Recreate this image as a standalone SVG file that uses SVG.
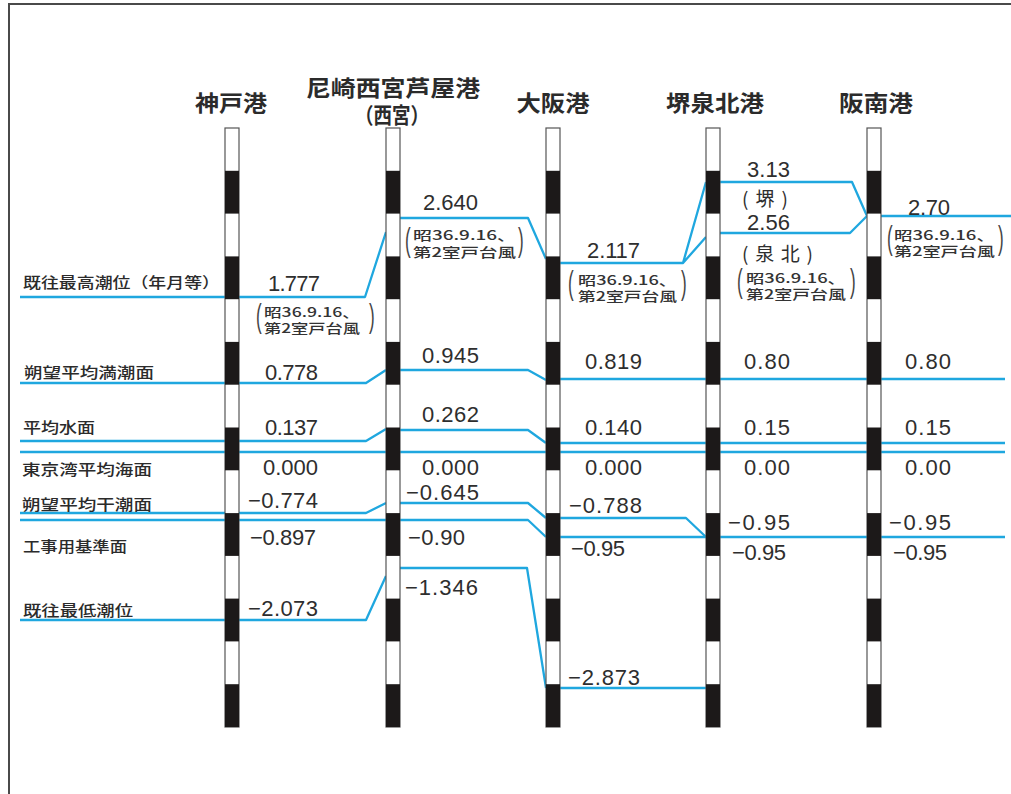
<svg xmlns="http://www.w3.org/2000/svg" xmlns:xlink="http://www.w3.org/1999/xlink" width="1011" height="794" viewBox="0 0 1011 794">
<style>
.frame{fill:none;stroke:#4a4a4a;stroke-width:2}
.lv{fill:none;stroke:#1fa7df;stroke-width:2.3;stroke-linejoin:round}
.hd{font-family:"Noto Sans CJK JP","Noto Sans CJK SC",sans-serif;font-weight:700;font-size:22px;fill:#2b2b2b;text-anchor:middle}
.lb{font-family:"Noto Sans CJK JP","Noto Sans CJK SC",sans-serif;font-weight:500;font-size:15px;fill:#2b2b2b}
.val{font-family:"Liberation Sans","Noto Sans CJK JP",sans-serif;font-size:22px;fill:#2e2e2e}
.jv{font-family:"Noto Sans CJK JP","Noto Sans CJK SC",sans-serif;font-size:19px;fill:#2e2e2e}
.nt{font-family:"Noto Sans CJK JP","Noto Sans CJK SC",sans-serif;font-weight:500;font-size:13px;fill:#333}
.par{font-family:"Liberation Sans",sans-serif;font-size:34px;fill:#444}
.sw{fill:#fff;stroke:#555;stroke-width:1.2}
.sb{fill:#1c1919}
</style>
<defs>
<g id="staff">
<rect class="sw" x="0" y="128" width="14" height="599"/>
<rect class="sb" x="0" y="170.8" width="14" height="42.8"/>
<rect class="sb" x="0" y="256.4" width="14" height="42.8"/>
<rect class="sb" x="0" y="341.9" width="14" height="42.8"/>
<rect class="sb" x="0" y="427.5" width="14" height="42.8"/>
<rect class="sb" x="0" y="513.1" width="14" height="42.8"/>
<rect class="sb" x="0" y="598.6" width="14" height="42.8"/>
<rect class="sb" x="0" y="684.2" width="14" height="42.8"/>
</g>
</defs>
<rect x="0" y="0" width="1011" height="794" fill="#fff"/>
<rect class="frame" x="9" y="4" width="1100" height="900"/>

<g id="connectors">
<path class="lv" d="M20,297 H365 L386,232 M400,218 H528 L546,259 M560,263 H683 L706,182 M683,263 L706,237 M720,182 H852 L867,216 M720,233 H850 L867,216 M881,216 H1011"/>
<path class="lv" d="M20,383 H366 L386,370 M400,370 H528 L546,380 M560,379 H1005"/>
<path class="lv" d="M20,441 H366 L386,429 M400,430 H528 L546,443 M560,443 H1005"/>
<path class="lv" d="M20,452 H1005"/>
<path class="lv" d="M20,513 H366 L386,503 M400,503 H528 L546,518 M560,518 H686 L706,537"/>
<path class="lv" d="M20,520 H386 M400,520 H528 L546,537 M560,537 H1005"/>
<path class="lv" d="M20,620 H366 L386,576 M400,568 H527 L546,688 M560,688 H706"/>
</g>

<g id="labels">
<text class="lb" x="23" y="288" textLength="197" lengthAdjust="spacingAndGlyphs">既往最高潮位（年月等）</text>
<text class="lb" x="24" y="378" textLength="130" lengthAdjust="spacingAndGlyphs">朔望平均満潮面</text>
<text class="lb" x="23" y="433" textLength="72" lengthAdjust="spacingAndGlyphs">平均水面</text>
<text class="lb" x="22" y="475" textLength="130" lengthAdjust="spacingAndGlyphs">東京湾平均海面</text>
<text class="lb" x="22" y="510" textLength="130" lengthAdjust="spacingAndGlyphs">朔望平均干潮面</text>
<text class="lb" x="23" y="552" textLength="104" lengthAdjust="spacingAndGlyphs">工事用基準面</text>
<text class="lb" x="23" y="616" textLength="110" lengthAdjust="spacingAndGlyphs">既往最低潮位</text>
</g>

<g id="kobe">
<text class="hd" x="231" y="111" textLength="72" lengthAdjust="spacingAndGlyphs">神戸港</text>
<use xlink:href="#staff" x="225"/>
<text class="val" x="268" y="291" textLength="52" lengthAdjust="spacing">1.777</text>
<text class="par" transform="translate(256,327) scale(0.5,1)">(</text>
<text class="nt" x="264" y="317" textLength="96" lengthAdjust="spacingAndGlyphs">昭36.9.16、</text>
<text class="nt" x="264" y="333" textLength="96" lengthAdjust="spacingAndGlyphs">第2室戸台風</text>
<text class="par" transform="translate(369,327) scale(0.5,1)">)</text>
<text class="val" x="265" y="380" textLength="53" lengthAdjust="spacing">0.778</text>
<text class="val" x="265" y="435" textLength="53" lengthAdjust="spacing">0.137</text>
<text class="val" x="263" y="475" textLength="55" lengthAdjust="spacing">0.000</text>
<text class="val" x="248" y="508" textLength="70" lengthAdjust="spacing">−0.774</text>
<text class="val" x="250" y="545" textLength="66" lengthAdjust="spacing">−0.897</text>
<text class="val" x="248" y="616" textLength="70" lengthAdjust="spacing">−2.073</text>
</g>

<g id="amagasaki">
<text class="hd" x="393" y="96" textLength="174" lengthAdjust="spacingAndGlyphs">尼崎西宮芦屋港</text>
<text class="hd" x="392" y="123" textLength="74" lengthAdjust="spacingAndGlyphs">（西宮）</text>
<use xlink:href="#staff" x="386"/>
<text class="val" x="423" y="210" textLength="55" lengthAdjust="spacing">2.640</text>
<text class="par" transform="translate(405,251) scale(0.5,1)">(</text>
<text class="nt" x="413" y="240" textLength="103" lengthAdjust="spacingAndGlyphs">昭36.9.16、</text>
<text class="nt" x="413" y="257" textLength="103" lengthAdjust="spacingAndGlyphs">第2室戸台風</text>
<text class="par" transform="translate(518,251) scale(0.5,1)">)</text>
<text class="val" x="422" y="363" textLength="57" lengthAdjust="spacing">0.945</text>
<text class="val" x="422" y="422" textLength="57" lengthAdjust="spacing">0.262</text>
<text class="val" x="422" y="475" textLength="57" lengthAdjust="spacing">0.000</text>
<text class="val" x="406" y="500" textLength="73" lengthAdjust="spacing">−0.645</text>
<text class="val" x="408" y="545" textLength="57" lengthAdjust="spacing">−0.90</text>
<text class="val" x="405" y="595" textLength="73" lengthAdjust="spacing">−1.346</text>
</g>

<g id="osaka">
<text class="hd" x="553" y="111" textLength="73" lengthAdjust="spacingAndGlyphs">大阪港</text>
<use xlink:href="#staff" x="546"/>
<text class="val" x="587" y="258" textLength="53" lengthAdjust="spacing">2.117</text>
<text class="par" transform="translate(568,294) scale(0.5,1)">(</text>
<text class="nt" x="578" y="285" textLength="99" lengthAdjust="spacingAndGlyphs">昭36.9.16、</text>
<text class="nt" x="578" y="301" textLength="99" lengthAdjust="spacingAndGlyphs">第2室戸台風</text>
<text class="par" transform="translate(681,294) scale(0.5,1)">)</text>
<text class="val" x="585" y="369" textLength="57" lengthAdjust="spacing">0.819</text>
<text class="val" x="585" y="435" textLength="57" lengthAdjust="spacing">0.140</text>
<text class="val" x="585" y="475" textLength="57" lengthAdjust="spacing">0.000</text>
<text class="val" x="569" y="513" textLength="73" lengthAdjust="spacing">−0.788</text>
<text class="val" x="571" y="556" textLength="54" lengthAdjust="spacing">−0.95</text>
<text class="val" x="568" y="685" textLength="72" lengthAdjust="spacing">−2.873</text>
</g>

<g id="sakai-senboku">
<text class="hd" x="715" y="111" textLength="98" lengthAdjust="spacingAndGlyphs">堺泉北港</text>
<use xlink:href="#staff" x="706"/>
<text class="val" x="747" y="177" textLength="43" lengthAdjust="spacing">3.13</text>
<text class="jv" x="742" y="206" textLength="46" lengthAdjust="spacing">(堺)</text>
<text class="val" x="747" y="230" textLength="43" lengthAdjust="spacing">2.56</text>
<text class="jv" x="742" y="261" textLength="71" lengthAdjust="spacing">(泉北)</text>
<text class="par" transform="translate(737,292) scale(0.5,1)">(</text>
<text class="nt" x="746" y="283" textLength="100" lengthAdjust="spacingAndGlyphs">昭36.9.16、</text>
<text class="nt" x="746" y="299" textLength="100" lengthAdjust="spacingAndGlyphs">第2室戸台風</text>
<text class="par" transform="translate(850,292) scale(0.5,1)">)</text>
<text class="val" x="744" y="369" textLength="46" lengthAdjust="spacing">0.80</text>
<text class="val" x="744" y="435" textLength="46" lengthAdjust="spacing">0.15</text>
<text class="val" x="744" y="475" textLength="46" lengthAdjust="spacing">0.00</text>
<text class="val" x="728" y="530" textLength="62" lengthAdjust="spacing">−0.95</text>
<text class="val" x="732" y="560" textLength="54" lengthAdjust="spacing">−0.95</text>
</g>

<g id="hannan">
<text class="hd" x="876" y="111" textLength="74" lengthAdjust="spacingAndGlyphs">阪南港</text>
<use xlink:href="#staff" x="867"/>
<text class="val" x="908" y="215" textLength="42" lengthAdjust="spacing">2.70</text>
<text class="par" transform="translate(887,249) scale(0.5,1)">(</text>
<text class="nt" x="894" y="240" textLength="101" lengthAdjust="spacingAndGlyphs">昭36.9.16、</text>
<text class="nt" x="894" y="256" textLength="101" lengthAdjust="spacingAndGlyphs">第2室戸台風</text>
<text class="par" transform="translate(998,249) scale(0.5,1)">)</text>
<text class="val" x="905" y="369" textLength="46" lengthAdjust="spacing">0.80</text>
<text class="val" x="905" y="435" textLength="46" lengthAdjust="spacing">0.15</text>
<text class="val" x="905" y="475" textLength="46" lengthAdjust="spacing">0.00</text>
<text class="val" x="889" y="530" textLength="62" lengthAdjust="spacing">−0.95</text>
<text class="val" x="893" y="560" textLength="54" lengthAdjust="spacing">−0.95</text>
</g>
</svg>
